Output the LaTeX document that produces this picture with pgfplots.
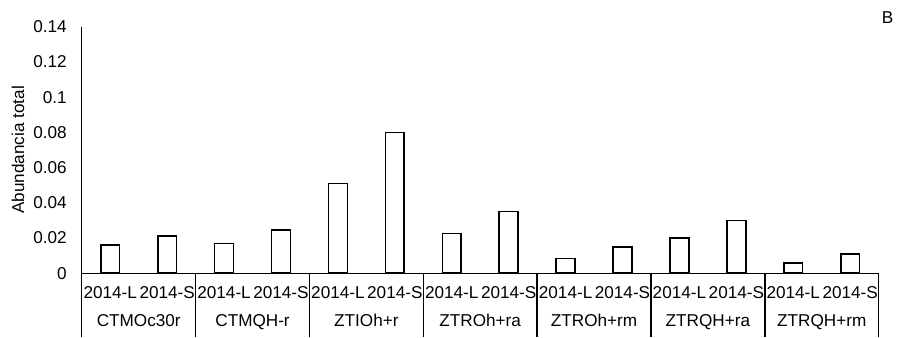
\documentclass[border=0pt]{standalone}
\usepackage{pgfplots}
\pgfplotsset{compat=1.18}
\usepackage{fontspec}
\setmainfont{Liberation Sans}
\begin{document}
\begin{tikzpicture}
\begin{axis}[
  width=399.5pt, height=123.65pt, scale only axis,
  xmin=-0.5, xmax=13.5, ymin=0, ymax=0.14,
  axis x line*=bottom, axis y line*=left,
  axis line style={line width=0.7pt, -},
  ytick={0,0.02,0.04,0.06,0.08,0.1,0.12,0.14},
  yticklabels={0,0.02,0.04,0.06,0.08,0.1,0.12,0.14},
  xtick={0,1,2,3,4,5,6,7,8,9,10,11,12,13},
  xticklabels={2014-L,2014-S,2014-L,2014-S,2014-L,2014-S,2014-L,2014-S,2014-L,2014-S,2014-L,2014-S,2014-L,2014-S},
  major tick length=0pt,
  tick label style={font=\fontsize{8.6}{10}\selectfont},
  xticklabel style={yshift=-3pt},
  yticklabel style={xshift=-4pt},
  extra x ticks={0.5,2.5,4.5,6.5,8.5,10.5,12.5},
  extra x tick labels={CTMOc30r,CTMQH-r,ZTIOh+r,ZTROh+ra,ZTROh+rm,ZTRQH+ra,ZTRQH+rm},
  extra x tick style={xticklabel style={yshift=-14pt}, major tick length=0pt},
  ylabel={Abundancia total},
  every axis y label/.style={at={(axis description cs:-0.0801,0.5)}, rotate=90, anchor=center, font=\fontsize{8.6}{10}\selectfont},
  clip=false,
]
\addplot[ybar, bar width=0.33, draw=black, fill=white, line width=0.8pt] coordinates {
(0,0.016) (1,0.021)
(2,0.017) (3,0.0245)
(4,0.051) (5,0.080)
(6,0.0225) (7,0.035)
(8,0.0085) (9,0.015)
(10,0.020) (11,0.030)
(12,0.0057) (13,0.011)
};
\pgfplotsinvokeforeach{-0.5,1.5,3.5,5.5,7.5,9.5,11.5,13.5}{
  \draw[line width=0.7pt] (axis cs:#1,0) -- ([yshift=-32pt]axis cs:#1,0);
}
\node[font=\fontsize{8.6}{10}\selectfont, xshift=4.5pt, yshift=4.4pt] at (rel axis cs:1,1) {B};
\path ([xshift=-41pt,yshift=-32pt]rel axis cs:0,0) rectangle ([xshift=9.5pt,yshift=13.35pt]rel axis cs:1,1);
\end{axis}
\end{tikzpicture}
\end{document}
